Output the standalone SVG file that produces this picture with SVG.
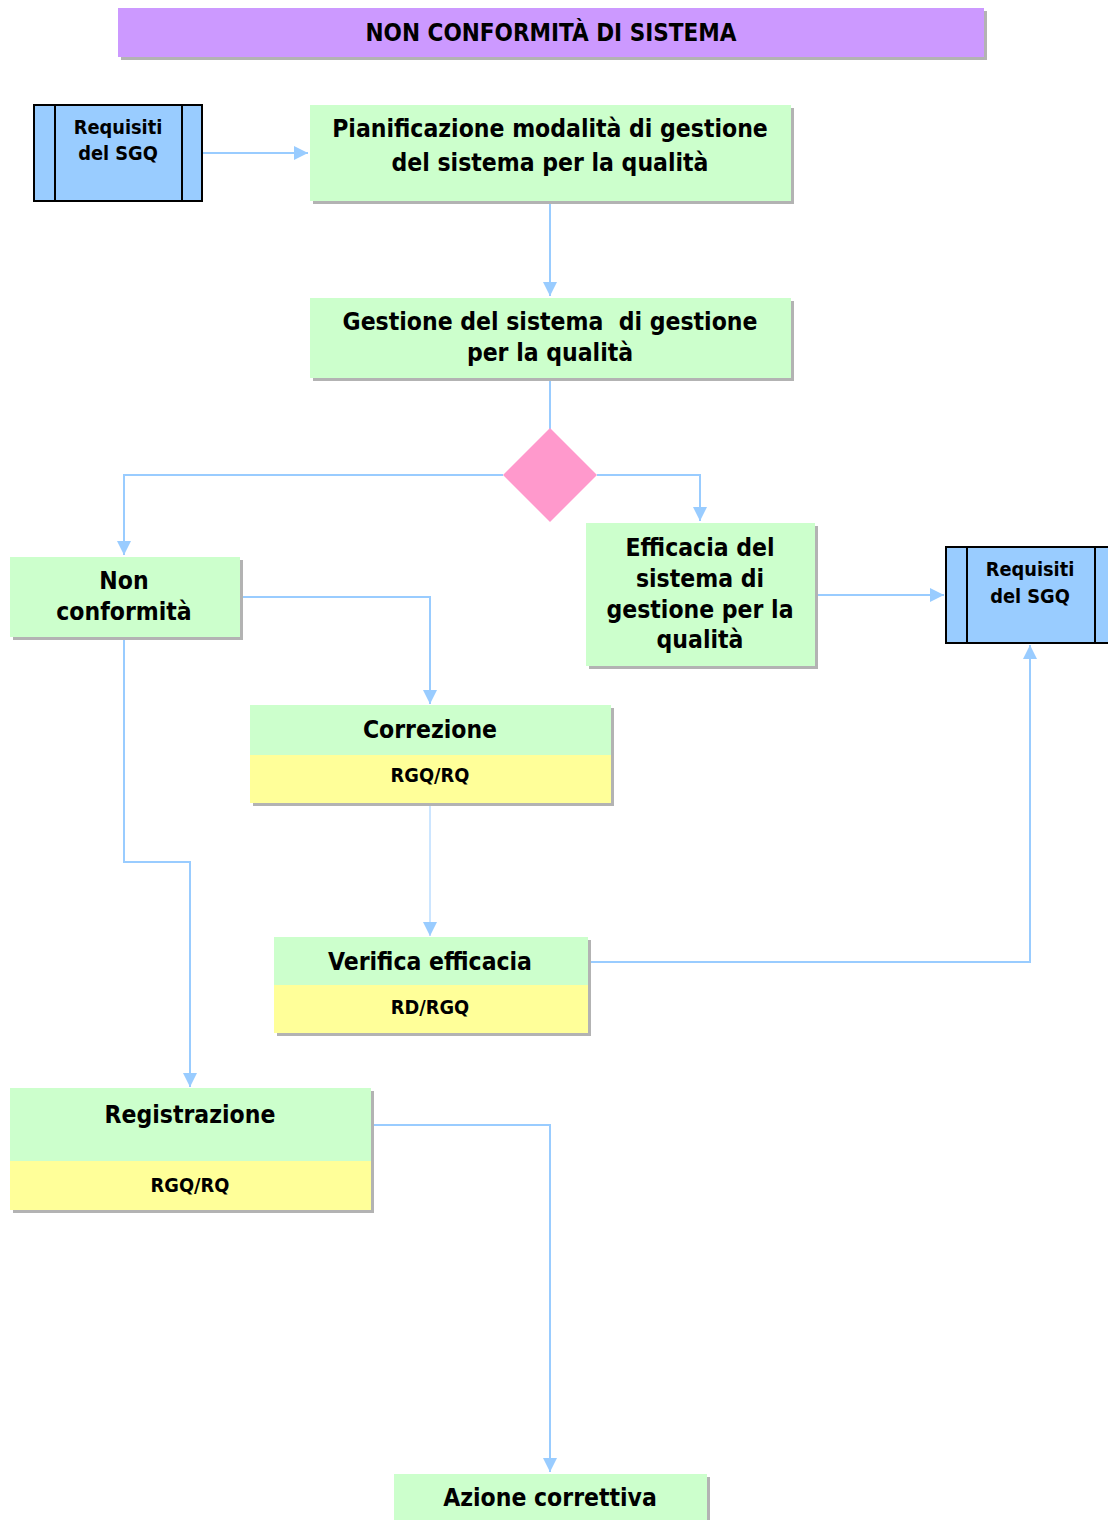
<svg xmlns="http://www.w3.org/2000/svg" width="1108" height="1520" viewBox="0 0 1108 1520">
  <style>
    .t { font-family: "DejaVu Sans Condensed", "DejaVu Sans", sans-serif; font-weight: bold; fill: #000; text-anchor: middle; }
    .big { font-size: 24.5px; }
    .sm { font-size: 19.8px; }
    .green { fill: #ccffcc; }
    .yellow { fill: #ffff99; }
    .shadow { fill: #b3b3b3; }
    .doc { fill: #99ccff; stroke: #000; stroke-width: 2; }
    .conn { fill: none; stroke: #99ccff; stroke-width: 2; }
  </style>
  <defs>
    <marker id="arrow" markerWidth="16" markerHeight="16" refX="14" refY="7" orient="auto" markerUnits="userSpaceOnUse">
      <path d="M0,0 L14,7 L0,14 Z" fill="#99ccff"/>
    </marker>
  </defs>
  <rect width="1108" height="1520" fill="#fff"/>

  <!-- title -->
  <g id="title">
    <rect class="shadow" x="121" y="11" width="866" height="49"/>
    <rect x="118" y="8" width="866" height="49" fill="#cc99ff"/>
    <text class="t" x="551" y="41" style="font-size:24px">NON CONFORMITÀ DI SISTEMA</text>
  </g>

  <!-- connectors -->
  <g id="connectors">
    <path class="conn" d="M202,153 H308" marker-end="url(#arrow)"/>
    <path class="conn" d="M550,203 V296" marker-end="url(#arrow)"/>
    <path class="conn" d="M550,380 V430"/>
    <path class="conn" d="M503,475 H124 V555" marker-end="url(#arrow)"/>
    <path class="conn" d="M597,475 H700 V521" marker-end="url(#arrow)"/>
    <path class="conn" d="M817,595 H944" marker-end="url(#arrow)"/>
    <path class="conn" d="M241,597 H430 V704" marker-end="url(#arrow)"/>
    <path class="conn" d="M430,805 V936" style="stroke-width:1" marker-end="url(#arrow)"/>
    <path class="conn" d="M589,962 H1030 V645" marker-end="url(#arrow)"/>
    <path class="conn" d="M124,639 V862 H190 V1087" marker-end="url(#arrow)"/>
    <path class="conn" d="M372,1125 H550 V1472" marker-end="url(#arrow)"/>
  </g>

  <!-- input requirements -->
  <g id="req-in">
    <rect class="doc" x="34" y="105" width="168" height="96"/>
    <line x1="55" y1="105" x2="55" y2="201" stroke="#000" stroke-width="2"/>
    <line x1="182" y1="105" x2="182" y2="201" stroke="#000" stroke-width="2"/>
    <text class="t sm" x="118" y="134">Requisiti</text>
    <text class="t sm" x="118" y="160">del SGQ</text>
  </g>

  <g id="pianificazione">
    <rect class="shadow" x="313" y="108" width="481" height="96"/>
    <rect class="green" x="310" y="105" width="481" height="96"/>
    <text class="t big" x="550" y="137">Pianificazione modalità di gestione</text>
    <text class="t big" x="550" y="171">del sistema per la qualità</text>
  </g>

  <g id="gestione">
    <rect class="shadow" x="313" y="301" width="481" height="80"/>
    <rect class="green" x="310" y="298" width="481" height="80"/>
    <text class="t big" x="550" y="330" xml:space="preserve">Gestione del sistema  di gestione</text>
    <text class="t big" x="550" y="361">per la qualità</text>
  </g>

  <g id="decisione">
    <path d="M550,428 L597,475 L550,522 L503,475 Z" fill="#ff99cc"/>
  </g>

  <g id="non-conformita">
    <rect class="shadow" x="13" y="560" width="230" height="80"/>
    <rect class="green" x="10" y="557" width="230" height="80"/>
    <text class="t big" x="124" y="589">Non</text>
    <text class="t big" x="124" y="620">conformità</text>
  </g>

  <g id="efficacia">
    <rect class="shadow" x="589" y="526" width="229" height="143"/>
    <rect class="green" x="586" y="523" width="229" height="143"/>
    <text class="t big" x="700" y="556">Efficacia del</text>
    <text class="t big" x="700" y="587">sistema di</text>
    <text class="t big" x="700" y="618">gestione per la</text>
    <text class="t big" x="700" y="648">qualità</text>
  </g>

  <!-- output requirements -->
  <g id="req-out">
    <rect class="doc" x="946" y="547" width="170" height="96"/>
    <line x1="967" y1="547" x2="967" y2="643" stroke="#000" stroke-width="2"/>
    <line x1="1095" y1="547" x2="1095" y2="643" stroke="#000" stroke-width="2"/>
    <text class="t sm" x="1030" y="576">Requisiti</text>
    <text class="t sm" x="1030" y="603">del SGQ</text>
  </g>

  <g id="correzione">
    <rect class="shadow" x="253" y="708" width="361" height="98"/>
    <rect class="green" x="250" y="705" width="361" height="50"/>
    <rect class="yellow" x="250" y="755" width="361" height="48"/>
    <text class="t big" x="430" y="738">Correzione</text>
    <text class="t sm" x="430" y="782">RGQ/RQ</text>
  </g>

  <g id="verifica">
    <rect class="shadow" x="277" y="940" width="314" height="96"/>
    <rect class="green" x="274" y="937" width="314" height="48"/>
    <rect class="yellow" x="274" y="985" width="314" height="48"/>
    <text class="t big" x="430" y="970">Verifica efficacia</text>
    <text class="t sm" x="430" y="1014">RD/RGQ</text>
  </g>

  <g id="registrazione">
    <rect class="shadow" x="13" y="1091" width="361" height="122"/>
    <rect class="green" x="10" y="1088" width="361" height="73"/>
    <rect class="yellow" x="10" y="1161" width="361" height="49"/>
    <text class="t big" x="190" y="1123">Registrazione</text>
    <text class="t sm" x="190" y="1192">RGQ/RQ</text>
  </g>

  <g id="azione">
    <rect class="shadow" x="397" y="1477" width="313" height="50"/>
    <rect class="green" x="394" y="1474" width="313" height="50"/>
    <text class="t big" x="550" y="1506">Azione correttiva</text>
  </g>
</svg>
